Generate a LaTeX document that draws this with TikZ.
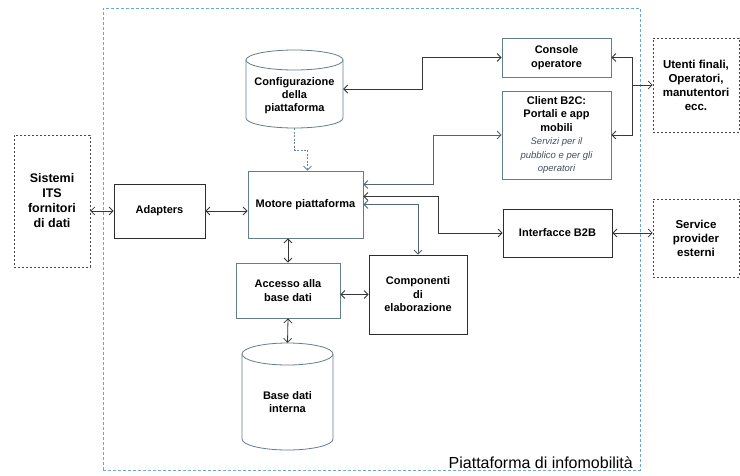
\documentclass[tikz,border=0pt]{standalone}
\usepackage{fontspec}
\setmainfont{Liberation Sans}
\usetikzlibrary{arrows.meta,calc}
\definecolor{boxc}{RGB}{100,125,140}
\definecolor{darkc}{RGB}{45,45,45}
\definecolor{linec}{RGB}{55,55,55}
\definecolor{extc}{RGB}{70,70,70}
\definecolor{bluec}{RGB}{110,165,220}
\definecolor{itc}{RGB}{70,80,95}
\definecolor{dashc}{RGB}{110,135,150}
\definecolor{gline}{RGB}{85,100,110}
\newcommand\svcline[1]{{\mdseries\itshape\fontsize{9.5}{11}\selectfont\color{itc}#1}}
\begin{document}
\begin{tikzpicture}[x=1pt,y=-1pt,
  >={Straight Barb[length=4pt,width=8pt]},
  box/.style={draw=boxc, line width=0.8pt, fill=white, align=center, inner sep=1pt,
    font=\bfseries\fontsize{11}{13.5}\selectfont},
  dbox/.style={box, draw=darkc},
  ext/.style={draw=extc, line width=0.7pt, dash pattern=on 2pt off 2pt, align=center, inner sep=1pt,
    font=\bfseries\fontsize{11.5}{14}\selectfont},
  plain/.style={align=center, inner sep=0pt, font=\bfseries\fontsize{11}{13}\selectfont},
  anchorbox/.style={draw=none, inner sep=0pt},
  cylc/.style={draw=boxc, line width=0.8pt},
  conn/.style={draw=linec, line width=0.8pt},
  gconn/.style={draw=gline, line width=0.8pt}
]
\useasboundingbox (0,0) rectangle (740,475);

% platform container
\node[draw=bluec, line width=0.9pt, dash pattern=on 3pt off 2pt, minimum width=537pt, minimum height=462pt, inner sep=0pt] (plat) at (371.5,239) {};
\node[anchor=base east, inner sep=0pt, font=\fontsize{16}{18}\selectfont] (platlbl) at (633,468) {Piattaforma di infomobilità};

% external boxes
\node[ext, minimum width=76pt, minimum height=132pt, font=\bfseries\fontsize{12.5}{15}\selectfont] (its) at (52,201) {Sistemi\\ITS\\fornitori\\di dati};
\node[ext, minimum width=86pt, minimum height=94pt] (ut) at (696,85) {Utenti finali,\\Operatori,\\manutentori\\ecc.};
\node[ext, minimum width=86pt, minimum height=78pt] (sp) at (696,238) {Service\\provider\\esterni};

% inner boxes
\node[dbox, minimum width=91pt, minimum height=54pt] (adp) at (159.5,211) {Adapters};
\node[box, minimum width=115pt, minimum height=67pt] (mot) at (305.5,204.5) {Motore piattaforma};
\node[box, minimum width=109pt, minimum height=39pt] (con) at (556.5,57.5) {Console\\operatore};
\node[box, minimum width=109pt, minimum height=88pt] (cli) at (556.5,135) {Client B2C:\\Portali e app\\mobili\\\svcline{Servizi per il}\\\svcline{pubblico e per gli}\\\svcline{operatori}};
\node[dbox, minimum width=109pt, minimum height=48pt] (b2b) at (557.5,233) {Interfacce B2B};
\node[box, minimum width=104pt, minimum height=55pt] (acc) at (288,290.5) {Accesso alla\\base dati};
\node[dbox, minimum width=98pt, minimum height=79pt] (comp) at (418,294.5) {Componenti\\di\\elaborazione};

% cylinders
\node[anchorbox, minimum width=97pt, minimum height=78pt] (cfg) at (294.5,89) {};
\draw[cylc, fill=white] (246,60) -- (246,118) arc[start angle=180, end angle=360, x radius=48.5pt, y radius=10pt] -- (343,60);
\draw[cylc, fill=white] (294.5,60) ellipse [x radius=48.5pt, y radius=10pt];
\node[plain] (cfgt) at (294.5,95.5) {Configurazione\\della\\piattaforma};

\node[anchorbox, minimum width=91pt, minimum height=107pt] (base) at (287.5,396.5) {};
\draw[cylc, fill=white] (242,354) -- (242,439) arc[start angle=180, end angle=360, x radius=45.5pt, y radius=11pt] -- (333,354);
\draw[cylc, fill=white] (287.5,354) ellipse [x radius=45.5pt, y radius=11pt];
\node[plain] (baset) at (287.5,402) {Base dati\\interna};

% connectors
\draw[conn,<->] (adp.west -| its.east) -- (adp.west);
\draw[conn,<->] (adp.east) -- (adp.east -| mot.west);
\draw[conn,<->] (acc.north |- mot.south) -- (acc.north);
\draw[conn,<->] (comp.west -| acc.east) -- (comp.west);
\draw[conn,<->] (acc.south) -- (base.north);
\draw[draw=dashc, line width=0.8pt,->,dash pattern=on 2pt off 1.5pt] (cfg.south) -- ++(0,22) -| ([xshift=2pt]mot.north);
\draw[conn,<->] (cfg.east) -- ++(79,0) |- (con.west);
\coordinate (jx) at (632,0);
\draw[conn,<->] (con.east) -| (jx |- cli.east) -- (cli.east);
\draw[conn,->] (jx |- ut.west) -- (ut.west);
\draw[gconn,<->] ([yshift=20pt]mot.east) -- ++(70,0) |- (cli.west);
\draw[conn,<->] ([yshift=8pt]mot.east) -- ++(75,0) |- (b2b.west);
\draw[gconn,<->] (mot.east) -| (comp.north);
\draw[conn,<->] (b2b.east) -- (b2b.east -| sp.west);
\end{tikzpicture}
\end{document}
